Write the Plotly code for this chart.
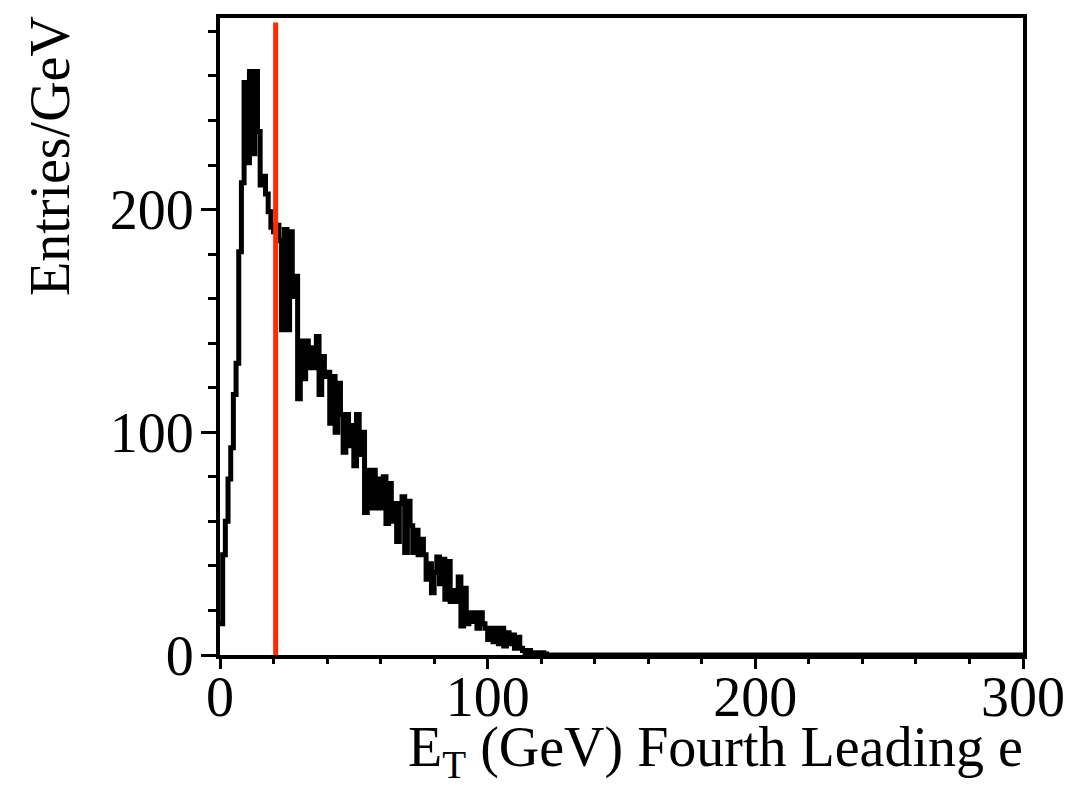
import plotly.graph_objects as go

# Histogram data (1 GeV bins from 0 to 122 GeV, then one empty bin to 300 GeV)
bin_edges = list(range(0, 123)) + [300]
counts = [
    14, 45, 60, 79, 93, 117, 131, 181, 212, 257,        # 0-9
    221, 262, 225, 262, 235, 211, 215, 207, 199, 192,   # 10-19
    190, 193, 186, 146, 191, 146, 190, 161, 170, 115,   # 20-29
    141, 124, 141, 129, 138, 129, 143, 117, 134, 125,   # 30-39
    127, 104, 125, 100, 122, 108, 91, 108, 94, 103,     # 40-49
    85, 108, 90, 100, 64, 83, 66, 83, 66, 79,           # 50-59
    66, 80, 59, 77, 60, 68, 51, 68, 71, 46,             # 60-69
    69, 58, 46, 56, 45, 52, 45, 34, 41, 28,             # 70-79
    37, 44, 32, 43, 25, 42, 24, 29, 24, 35,             # 80-89
    13, 30, 14, 19, 15, 19, 12, 19, 14, 12,             # 90-99
    7, 12, 6, 12, 5, 12, 4, 10, 5, 9,                   # 100-109
    3, 8, 3, 2, 1, 2, 1, 1, 1, 0.5,                     # 110-119
    1, 0.5,                                             # 120-121
    0,                                                  # 122-300
]
cut_value = 20.8
y_max = 286
x_ticks = [0, 100, 200, 300]
y_ticks = [0, 100, 200]

step_x = bin_edges
step_y = counts + [counts[-1]]

fig = go.Figure()
fig.add_trace(go.Scatter(
    x=step_x, y=step_y, mode="lines", line_shape="hv",
    line=dict(color="black", width=5), showlegend=False, hoverinfo="skip",
))
fig.add_trace(go.Scatter(
    x=[cut_value, cut_value], y=[0, 284], mode="lines",
    line=dict(color="#ff2a00", width=5), showlegend=False, hoverinfo="skip",
))

font_family = "Liberation Serif, Times New Roman, serif"

fig.update_layout(
    width=1083, height=785,
    margin=dict(l=220, r=60, t=18, b=130),
    paper_bgcolor="white", plot_bgcolor="white",
    font=dict(family=font_family, color="black", size=56),
    xaxis=dict(
        range=[0, 300], tickvals=x_ticks, ticktext=[str(v) for v in x_ticks],
        showgrid=False, zeroline=False,
        showline=True, linecolor="black", linewidth=4, mirror=True,
        ticks="outside", ticklen=10, tickwidth=3, tickcolor="black",
        ticklabelstandoff=-20,
        tickfont=dict(family=font_family, size=56, color="black"),
        minor=dict(dtick=20, ticks="outside", ticklen=5, tickwidth=3, tickcolor="black"),
    ),
    yaxis=dict(
        range=[0, y_max], tickvals=y_ticks, ticktext=[str(v) for v in y_ticks],
        showgrid=False, zeroline=False,
        showline=True, linecolor="black", linewidth=4, mirror=True,
        ticks="outside", ticklen=15, tickwidth=3, tickcolor="black",
        ticklabelstandoff=-4,
        tickfont=dict(family=font_family, size=56, color="black"),
        minor=dict(dtick=20, ticks="outside", ticklen=8, tickwidth=3, tickcolor="black"),
    ),
    annotations=[
        dict(
            text="E<sub>T</sub> (GeV) Fourth Leading e",
            xref="paper", yref="paper", x=1.003, y=0,
            xanchor="right", yanchor="top", yshift=-59,
            showarrow=False, font=dict(family=font_family, size=56, color="black"),
        ),
        dict(
            text="Entries/GeV", textangle=-90,
            xref="paper", yref="paper", x=(50 - 220) / 803, y=1.0,
            xanchor="center", yanchor="top", yshift=4,
            showarrow=False, font=dict(family=font_family, size=56, color="black"),
        ),
    ],
)

fig.write_html("out.html", config={"displayModeBar": False},
               post_script="document.body.style.margin='0';")
